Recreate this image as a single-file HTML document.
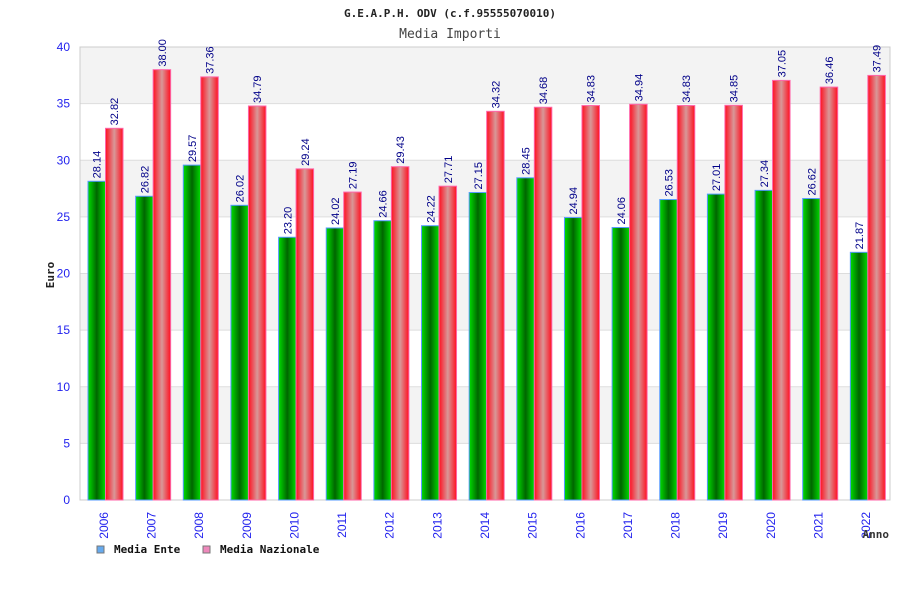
<!DOCTYPE html>
<html><head><meta charset="utf-8"><style>
body{margin:0;background:#fff;}
svg text{font-family:"DejaVu Sans Mono","Liberation Mono",monospace;}
svg text.sans{font-family:"Liberation Sans","DejaVu Sans",sans-serif;}
</style></head><body>
<svg id="chart" width="900" height="600" xmlns="http://www.w3.org/2000/svg">
<defs>
<linearGradient id="gG" x1="0" x2="1" y1="0" y2="0">
<stop offset="0" stop-color="#00dd00"/><stop offset="0.5" stop-color="#006600"/><stop offset="1" stop-color="#00dd00"/></linearGradient>
<linearGradient id="gR" x1="0" x2="1" y1="0" y2="0">
<stop offset="0" stop-color="#ff1020"/><stop offset="0.5" stop-color="#d89898"/><stop offset="1" stop-color="#ff1020"/></linearGradient>
</defs>
<text x="450" y="17" text-anchor="middle" font-size="11" font-weight="bold" fill="#222">G.E.A.P.H. ODV (c.f.95555070010)</text>
<text x="450" y="38" text-anchor="middle" font-size="13" fill="#444">Media Importi</text>
<g id="plot"></g>
<text x="54" y="275" text-anchor="middle" font-size="11" font-weight="bold" fill="#222" transform="rotate(-90 54 275)">Euro</text>
<text x="889" y="538" text-anchor="end" font-size="11" font-weight="bold" fill="#333">Anno</text>
<g>
<rect x="97" y="546" width="7" height="7" fill="#66aaee" stroke="#777"/>
<text x="114" y="553" font-size="11" font-weight="bold" fill="#111">Media Ente</text>
<rect x="203" y="546" width="7" height="7" fill="#ee88bb" stroke="#777"/>
<text x="220" y="553" font-size="11" font-weight="bold" fill="#111">Media Nazionale</text>
</g>
</svg>
<script>
const years=["2006","2007","2008","2009","2010","2011","2012","2013","2014","2015","2016","2017","2018","2019","2020","2021","2022"];
const ente=[28.14,26.82,29.57,26.02,23.20,24.02,24.66,24.22,27.15,28.45,24.94,24.06,26.53,27.01,27.34,26.62,21.87];
const nazionale=[32.82,38.00,37.36,34.79,29.24,27.19,29.43,27.71,34.32,34.68,34.83,34.94,34.83,34.85,37.05,36.46,37.49];
const yTicks=[0,5,10,15,20,25,30,35,40];
const NS="http://www.w3.org/2000/svg";
const L=80,R=890,T=47,B=500,YMAX=40;
const y=v=>B-(v/YMAX)*(B-T);
const cw=(R-L)/years.length;
const x=i=>L+i*cw;
const g=document.getElementById('plot');
function mk(t,a){const e=document.createElementNS(NS,t);for(const k in a)e.setAttribute(k,a[k]);g.appendChild(e);return e;}
for(let i=0;i<yTicks.length-1;i++){
 const b=mk('rect',{x:L,y:y(yTicks[i+1]),width:R-L,height:y(yTicks[i])-y(yTicks[i+1]),fill:(i%2)?'#f3f3f3':'#fff'});
 
 
}
yTicks.forEach(t=>{
 const l=mk('line',{x1:L,x2:R,y1:y(t),y2:y(t),stroke:'#ddd'});
 
 
 const tx=mk('text',{x:70,y:y(t)+4,'text-anchor':'end','font-size':12,fill:'#2222ee',class:'sans'});
 tx.textContent=t;
 
 
});
const fr=mk('rect',{x:L,y:T,width:R-L,height:B-T,fill:'none',stroke:'#ccc'});


const bw=17.5,off=8;
years.forEach((yr,i)=>{
 const x0=x(i)+off;
 [[ente[i],'url(#gG)','#5599ff','bar-ente-'+yr,x0],[nazionale[i],'url(#gR)','#ff66aa','bar-nazionale-'+yr,x0+bw]].forEach(([v,f,s,n,bx])=>{
  const r=mk('rect',{x:bx,y:y(v),width:bw,height:B-y(v),fill:f,stroke:s,'stroke-width':1});
  
  
  const cx=bx+bw/2+4, cy=y(v)-3;
  const t=mk('text',{x:cx,y:cy,'font-size':11,fill:'#000088',class:'sans',transform:`rotate(-90 ${cx} ${cy})`});
  t.textContent=v.toFixed(2);
  
  
 });
 const lx=x(i)+cw/2+4, ly=512;
 const t=mk('text',{x:lx,y:ly,'font-size':12,fill:'#2222ee','text-anchor':'end',class:'sans',transform:`rotate(-90 ${lx} ${ly})`});
 t.textContent=yr;
 
 
});
</script>
</body></html>
